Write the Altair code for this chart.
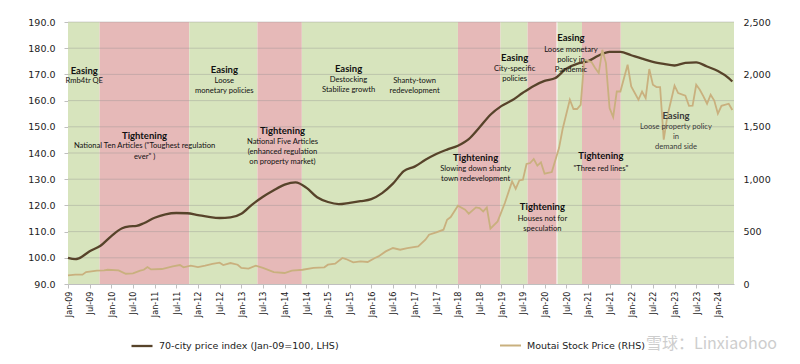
import altair as alt
import pandas as pd

# ---------------- data ----------------
index_months = ["2009-01","2009-03","2009-04","2009-07","2009-10","2010-01","2010-04","2010-06","2010-08","2010-10",
                "2011-01","2011-04","2011-07","2011-10","2012-01","2012-04","2012-07","2012-10","2013-01","2013-04",
                "2013-07","2013-10","2014-01","2014-04","2014-07","2014-10","2015-01","2015-04","2015-07","2015-10",
                "2016-01","2016-04","2016-07","2016-10","2017-01","2017-04","2017-07","2017-10","2018-01","2018-04",
                "2018-07","2018-10","2019-01","2019-04","2019-07","2019-10","2020-01","2020-04","2020-07","2020-10",
                "2021-01","2021-04","2021-07","2021-10","2022-01","2022-04","2022-07","2022-10","2023-01","2023-04",
                "2023-07","2023-10","2024-01","2024-04","2024-05"]
index_values = [100.0, 99.5, 99.8, 102.5, 104.6, 108.3, 111.3, 112.0, 112.2, 113.2,
                115.3, 116.6, 117.1, 117.0, 116.3, 115.6, 115.2, 115.4, 116.8, 120.3,
                123.3, 125.8, 127.9, 128.8, 126.8, 123.1, 121.3, 120.5, 121.0, 121.6,
                122.4, 124.7, 128.3, 133.1, 134.8, 137.4, 139.6, 141.3, 142.8, 145.3,
                149.8, 154.6, 157.9, 160.1, 163.0, 165.6, 167.5, 168.6, 172.2, 174.0,
                175.0, 177.2, 178.6, 178.6, 177.3, 176.0, 174.8, 174.0, 173.4, 174.4,
                174.6, 173.0, 171.3, 168.6, 167.3]

moutai_months = ["2009-01","2009-03","2009-05","2009-06","2009-09","2009-11","2009-12","2010-03","2010-05","2010-07",
                 "2010-09","2010-10","2010-11","2010-12","2011-03","2011-06","2011-08","2011-09","2011-11","2012-01",
                 "2012-03","2012-05","2012-07","2012-08","2012-10","2012-12","2013-01","2013-03","2013-05","2013-07",
                 "2013-10","2014-01","2014-03","2014-06","2014-09","2014-12","2015-01","2015-03","2015-05","2015-06",
                 "2015-08","2015-10","2015-12","2016-02","2016-03","2016-05","2016-07","2016-09","2016-11","2017-02",
                 "2017-04","2017-05","2017-07","2017-09","2017-10","2017-11","2018-01","2018-03","2018-04","2018-06",
                 "2018-07","2018-08","2018-09","2018-10","2018-12","2019-02","2019-04","2019-05","2019-06","2019-07",
                 "2019-08","2019-09","2019-10","2019-11","2019-12","2020-01","2020-03","2020-05","2020-06","2020-08",
                 "2020-09","2020-10","2020-11","2020-12","2021-02","2021-03","2021-04","2021-05","2021-06","2021-07",
                 "2021-08","2021-09","2021-10","2021-12","2022-01","2022-03","2022-04","2022-05","2022-06","2022-07",
                 "2022-08","2022-09","2022-10","2022-11","2023-01","2023-02","2023-04","2023-05","2023-06","2023-07",
                 "2023-08","2023-09","2023-10","2023-11","2023-12","2024-01","2024-02","2024-04","2024-05"]
moutai_values = [82, 89, 89, 114, 127, 130, 136, 130, 98, 101,
                 127, 136, 162, 139, 143, 168, 181, 159, 175, 162,
                 175, 191, 203, 181, 200, 184, 153, 146, 175, 153,
                 114, 105, 127, 136, 153, 159, 184, 194, 248, 238,
                 206, 216, 210, 248, 263, 311, 343, 327, 343, 359,
                 423, 470, 492, 518, 613, 639, 747, 709, 671, 731,
                 725, 693, 731, 528, 597, 773, 979, 909, 988, 995,
                 1145, 1154, 1193, 1129, 1160, 1052, 1068, 1297, 1479, 1758,
                 1670, 1670, 1710, 2140, 2118, 2061, 2013, 2235, 2108, 1679,
                 1593, 1837, 1837, 2092, 1885, 1758, 1837, 1774, 2051, 1901,
                 1879, 1879, 1377, 1600, 1892, 1822, 1796, 1700, 1701, 1901,
                 1854, 1790, 1720, 1806, 1750, 1625, 1700, 1720, 1660]

region_starts = ["2009-01-01","2009-09-24","2011-10-19","2013-05-15","2014-05-24","2018-01-01",
                 "2018-12-25","2019-08-10","2020-04-18","2020-11-12","2021-10-04"]
region_ends = ["2009-09-24","2011-10-19","2013-05-15","2014-05-24","2018-01-01","2018-12-25",
               "2019-08-10","2020-04-10","2020-11-12","2021-10-04","2024-05-15"]
region_types = ["Easing","Tightening","Easing","Tightening","Easing","Tightening",
                "Easing","Tightening","Easing","Tightening","Easing"]

note_texts = ["Easing", "Rmb4tr QE",
              "Tightening", 'National Ten Articles ("Toughest regulation', 'ever" )',
              "Easing", "Loose", "monetary policies",
              "Tightening", "National Five Articles", "(enhanced regulation", "on property market)",
              "Easing", "Destocking", "Stabilize growth",
              "Shanty-town", "redevelopment",
              "Tightening", "Slowing down shanty", "town redevelopment",
              "Easing", "City-specific", "policies",
              "Tightening", "Houses not for", "speculation",
              "Easing", "Loose monetary", "policy  in", "Pandemic",
              "Tightening", '"Three red lines"',
              "Easing", "Loose property policy", "in", "demand side"]
note_dates = ["2009-05-16"] * 2 + ["2010-10-07"] * 3 + ["2012-08-10"] * 3 + ["2013-12-13"] * 4 + \
             ["2015-06-22"] * 3 + ["2017-01-01"] * 2 + ["2018-05-28"] * 3 + ["2019-04-22"] * 3 + \
             ["2019-12-13"] * 3 + ["2020-08-10"] * 4 + ["2021-04-19"] * 2 + ["2023-01-13"] * 4
note_values = [171.4, 167.6,
               146.6, 142.8, 138.6,
               171.8, 167.6, 163.8,
               148.5, 144.3, 140.5, 136.7,
               172.2, 168.0, 164.2,
               167.6, 163.8,
               138.2, 134.0, 130.2,
               176.4, 172.2, 168.4,
               119.2, 115.0, 111.0,
               183.9, 179.4, 175.6, 171.8,
               138.7, 134.0,
               154.1, 149.9, 146.1, 142.4]

left_ticks = [90, 100, 110, 120, 130, 140, 150, 160, 170, 180, 190]
right_ticks = [0, 500, 1000, 1500, 2000, 2500]
x_ticks = list(range(0, 181, 6))

INDEX_NAME = "70-city price index (Jan-09=100, LHS)"
MOUTAI_NAME = "Moutai Stock Price (RHS)"
WATERMARK = "雪球：Linxiaohoo"


def month_pos(s):
    p = [int(v) for v in s.split("-")]
    d = p[2] if len(p) > 2 else 1
    return (p[0] - 2009) * 12 + (p[1] - 1) + (d - 1) / 30.0


idx_df = pd.DataFrame({"m": [month_pos(s) for s in index_months], "v": index_values,
                       "series": INDEX_NAME})
mt_df = pd.DataFrame({"m": [month_pos(s) for s in moutai_months], "v": moutai_values,
                      "series": MOUTAI_NAME})
reg_df = pd.DataFrame({"start": [month_pos(s) for s in region_starts],
                       "end": [month_pos(s) for s in region_ends], "type": region_types})
grid_df = pd.DataFrame({"g": left_ticks[1:]})
headers = {"Easing", "Tightening"}
note_df = pd.DataFrame({"text": note_texts, "m": [month_pos(s) for s in note_dates], "v": note_values})
note_df["bold"] = note_df["text"].isin(headers)
note_df["tone"] = ["#3a3a3a" if d == "2023-01-13" else "#111111" for d in note_dates]

# ---------------- styling ----------------
GREEN = "#d7e4bd"
RED = "#e6b9b8"
DARK = "#57432a"
TAN = "#c9b07e"
AXIS_FONT = "DejaVu Sans"
NARROW = "Liberation Sans Narrow, DejaVu Sans Condensed, Liberation Sans"
NOTE_FONT = "Lato"
x_max = month_pos("2024-05-15")

xscale = alt.Scale(domain=[0, x_max], nice=False, zero=False)
xaxis = alt.Axis(values=x_ticks, title=None, grid=False, labelAngle=270,
                 labelExpr="(datum.value % 12 == 0 ? 'Jan-' : 'Jul-') + slice('0' + (floor(datum.value / 12) + 9), -2)",
                 labelFont=NARROW, labelFontSize=9, labelColor="#222222", labelPadding=3,
                 tickColor="#bfbfbf", tickSize=4, domainColor="#bfbfbf", labelOverlap=False)
lscale = alt.Scale(domain=[90, 190], nice=False, zero=False)
laxis = alt.Axis(values=left_ticks, format=".1f", title=None, grid=False,
                 labelFont=AXIS_FONT, labelFontSize=9.5, labelColor="#222222", labelPadding=9,
                 tickColor="#bfbfbf", tickSize=4, domainColor="#bfbfbf")
rscale = alt.Scale(domain=[0, 2500], nice=False)
raxis = alt.Axis(values=right_ticks, format=",.0f", title=None, grid=False, orient="right",
                 labelFont=AXIS_FONT, labelFontSize=9.5, labelColor="#222222", labelPadding=9,
                 ticks=False, domain=False)

rects = alt.Chart(reg_df).mark_rect().encode(
    x=alt.X("start:Q", scale=xscale, axis=xaxis),
    x2="end:Q",
    y=alt.YDatum(190, scale=lscale, axis=laxis),
    y2=alt.Y2Datum(90),
    fill=alt.Fill("type:N", scale=alt.Scale(domain=["Easing", "Tightening"], range=[GREEN, RED]), legend=None),
)

grid = alt.Chart(grid_df).mark_rule(color="#8c8c8c", opacity=0.35, strokeWidth=1).encode(
    y=alt.Y("g:Q", scale=lscale, axis=laxis)
)

idx_line = alt.Chart(idx_df).mark_line(strokeWidth=2.3, interpolate="monotone").encode(
    x=alt.X("m:Q", scale=xscale, axis=xaxis),
    y=alt.Y("v:Q", scale=lscale, axis=laxis),
    color=alt.Color("series:N", scale=alt.Scale(domain=[INDEX_NAME], range=[DARK]),
                    legend=alt.Legend(title=None, orient="none", legendX=62, legendY=312,
                                      symbolType="stroke", symbolSize=441, symbolStrokeWidth=2.3,
                                      labelFont=AXIS_FONT, labelFontSize=9.5, labelColor="#222222",
                                      labelOffset=5, labelLimit=400)),
)

left_group = alt.layer(rects, grid, idx_line)

mt_line = alt.Chart(mt_df).mark_line(strokeWidth=1.8).encode(
    x=alt.X("m:Q", scale=xscale, axis=xaxis),
    y=alt.Y("v:Q", scale=rscale, axis=raxis),
    color=alt.Color("series:N", scale=alt.Scale(domain=[MOUTAI_NAME], range=[TAN]),
                    legend=alt.Legend(title=None, orient="none", legendX=431, legendY=312,
                                      symbolType="stroke", symbolSize=441, symbolStrokeWidth=2,
                                      labelFont=AXIS_FONT, labelFontSize=9.5, labelColor="#222222",
                                      labelOffset=5, labelLimit=400)),
)

notes_bold = alt.Chart(note_df).transform_filter("datum.bold").mark_text(
    font=NOTE_FONT, fontSize=9.5, fontWeight="bold", align="center", baseline="middle"
).encode(
    x=alt.X("m:Q", scale=xscale, axis=xaxis),
    y=alt.Y("v:Q", scale=lscale, axis=None),
    text="text:N",
    fill=alt.Fill("tone:N", scale=None),
)

notes_reg = alt.Chart(note_df).transform_filter("!datum.bold").mark_text(
    font=NOTE_FONT, fontSize=7.6, align="center", baseline="middle"
).encode(
    x=alt.X("m:Q", scale=xscale, axis=xaxis),
    y=alt.Y("v:Q", scale=lscale, axis=None),
    text="text:N",
    fill=alt.Fill("tone:N", scale=None),
)

watermark = alt.Chart(pd.DataFrame({"t": [WATERMARK]})).mark_text(
    font="Noto Sans CJK SC", fontSize=16, align="left", baseline="middle", color="#bdbdbd", opacity=0.75
).encode(text="t:N", x=alt.value(578), y=alt.value(322))

chart = alt.layer(left_group, mt_line, notes_bold, notes_reg, watermark).resolve_scale(
    y="independent", color="independent", fill="independent"
).properties(
    width=666, height=262,
    padding={"left": 60, "top": 14, "right": 50, "bottom": 70},
    autosize=alt.AutoSizeParams(type="none"),
).configure_view(stroke=None)

chart.save("out.html", embed_options={"renderer": "svg", "actions": False})
